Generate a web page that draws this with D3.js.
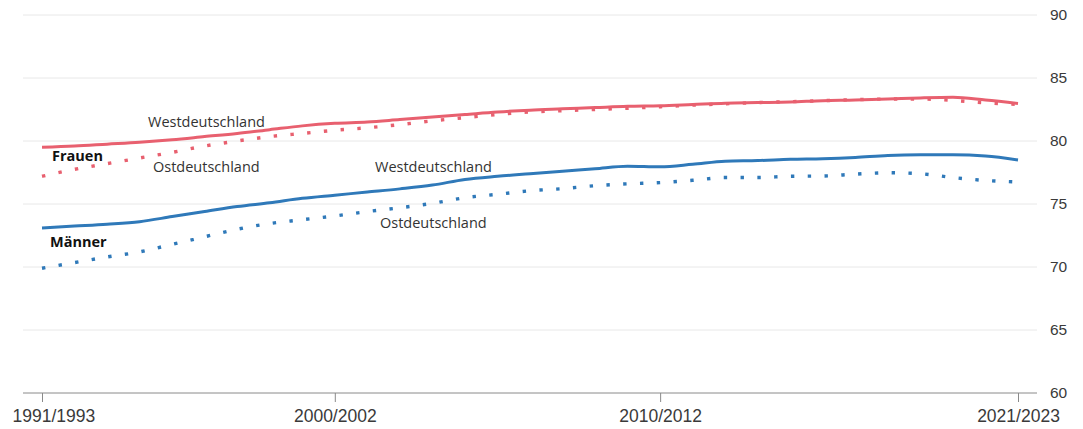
<!DOCTYPE html>
<html><head><meta charset="utf-8">
<script src="https://cdn.jsdelivr.net/npm/d3@7"></script>
<style>
html,body{margin:0;padding:0;background:#fff;}
svg{display:block;font-family:"Open Sans","Noto Sans",sans-serif;}
</style></head>
<body><svg id="c" width="1083" height="429"></svg>
<script>
const periods = ["1991/1993","1992/1994","1993/1995","1994/1996","1995/1997","1996/1998","1997/1999","1998/2000","1999/2001","2000/2002","2001/2003","2002/2004","2003/2005","2004/2006","2005/2007","2006/2008","2007/2009","2008/2010","2009/2011","2010/2012","2011/2013","2012/2014","2013/2015","2014/2016","2015/2017","2016/2018","2017/2019","2018/2020","2019/2021","2020/2022","2021/2023"];
const frauenWest = [79.5,79.6,79.75,79.9,80.1,80.35,80.6,80.9,81.2,81.4,81.5,81.7,81.9,82.1,82.3,82.45,82.55,82.65,82.75,82.8,82.9,83.0,83.05,83.1,83.2,83.25,83.33,83.42,83.47,83.25,82.98];
const frauenOst = [77.2,77.75,78.2,78.65,79.1,79.6,80.0,80.35,80.6,80.85,81.05,81.3,81.6,81.85,82.1,82.3,82.4,82.5,82.6,82.72,82.85,82.95,83.05,83.12,83.2,83.28,83.33,83.33,83.22,83.03,82.9];
const maennerWest = [73.1,73.25,73.4,73.6,74.0,74.4,74.8,75.1,75.45,75.7,75.95,76.2,76.5,76.95,77.2,77.4,77.6,77.8,78.0,77.95,78.15,78.4,78.45,78.55,78.6,78.7,78.85,78.9,78.9,78.8,78.5];
const maennerOst = [69.9,70.35,70.8,71.2,71.8,72.4,73.0,73.45,73.75,74.05,74.4,74.7,75.05,75.5,75.77,76.05,76.22,76.45,76.6,76.7,76.88,77.1,77.1,77.2,77.22,77.37,77.48,77.4,77.1,76.87,76.75];
const xTickLabels = ["1991/1993","2000/2002","2010/2012","2021/2023"];
const yTicks = [60,65,70,75,80,85,90];

const pink = "#e8606f", blue = "#2f79b9";
const svg = d3.select("#c");
const x = d3.scalePoint().domain(periods).range([42,1018]);
const y = d3.scaleLinear().domain([60,90]).range([393,15]);
const gridL = 23, gridR = 1037;

// gridlines + right axis
const yAxis = svg.append("g").attr("transform",`translate(${gridR},0)`)
  .call(d3.axisRight(y).tickValues(yTicks).tickSize(0).tickPadding(13));
yAxis.select(".domain").remove();
yAxis.selectAll("text").attr("font-size",15.5).attr("fill","#3a3a3a");
svg.insert("g",":first-child").selectAll("line").data(yTicks.filter(d=>d>60)).join("line")
  .attr("x1",gridL).attr("x2",gridR).attr("y1",d=>y(d)).attr("y2",d=>y(d))
  .attr("stroke","#e8e8e8").attr("stroke-width",1);

// bottom axis
const xAxis = svg.append("g").attr("transform",`translate(0,${y(60)})`)
  .call(d3.axisBottom(x).tickValues(xTickLabels).tickSize(9).tickPadding(8).tickSizeOuter(0));
xAxis.select(".domain").attr("d",`M${gridL},0H${gridR}`).attr("stroke","#8a8a8a");
xAxis.selectAll(".tick line").attr("stroke","#8a8a8a");
xAxis.selectAll("text").attr("font-size",17.5).attr("fill","#3a3a3a");
xAxis.selectAll(".tick text").filter((d,i)=>i===0)
  .attr("text-anchor","start").attr("x", 12 - x(xTickLabels[0]));

const line = d3.line().x((d,i)=>x(periods[i])).y(d=>y(d)).curve(d3.curveMonotoneX);
function draw(data,color,dotted){
  const p = svg.append("path").attr("d",line(data)).attr("fill","none")
    .attr("stroke",color).attr("stroke-width",3);
  if(dotted) p.attr("stroke-dasharray","3.4,13.4").attr("stroke-width",3.4);
}
draw(frauenOst,pink,true);
draw(frauenWest,pink,false);
draw(maennerOst,blue,true);
draw(maennerWest,blue,false);

const labels = [
  {t:"Westdeutschland",x:148,y:122,b:false},
  {t:"Frauen",x:52,y:156,b:true},
  {t:"Ostdeutschland",x:153,y:167,b:false},
  {t:"Westdeutschland",x:375,y:167,b:false},
  {t:"Männer",x:50,y:242,b:true},
  {t:"Ostdeutschland",x:380,y:223,b:false}
];
svg.append("g").selectAll("text").data(labels).join("text")
  .attr("x",d=>d.x).attr("y",d=>d.y).attr("dy","0.35em")
  .attr("font-size",14.5).attr("font-weight",d=>d.b?700:400)
  .attr("fill",d=>d.b?"#111":"#333").text(d=>d.t);
</script></body></html>
